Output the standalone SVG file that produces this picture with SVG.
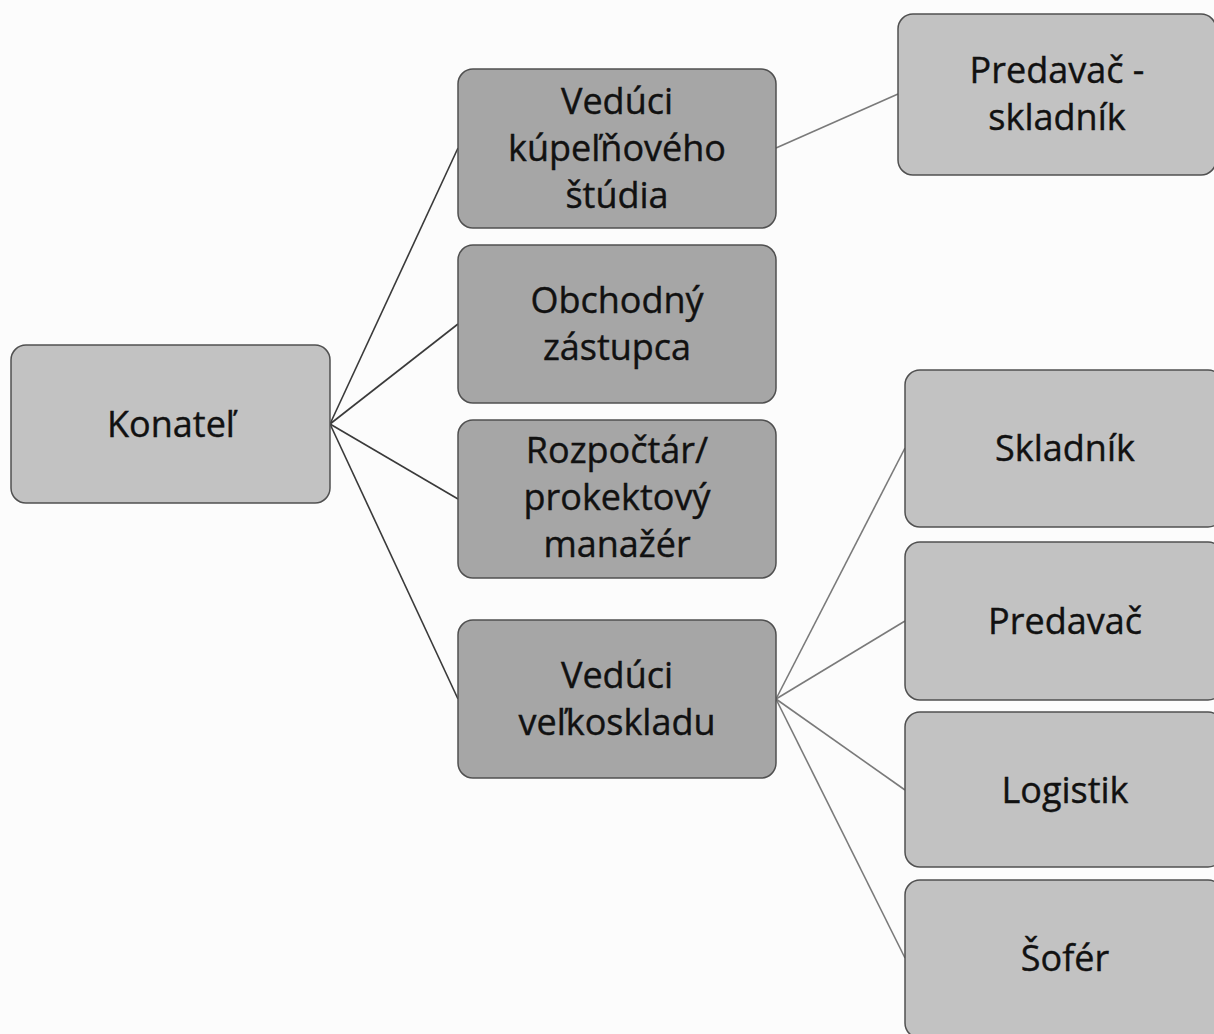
<svg xmlns="http://www.w3.org/2000/svg" width="1214" height="1034" viewBox="0 0 1214 1034">
<style>
.bg{fill:#fcfcfc}
.box{stroke:#505050;stroke-width:1.5}
.light{fill:#c2c2c2}
.dark{fill:#a6a6a6}
.t{font-family:"Open Sans","Noto Sans",sans-serif;font-size:36px;fill:#111111;stroke:#111111;stroke-width:0.4;text-anchor:middle}
.c1{stroke:#3a3a3a;stroke-width:1.6;fill:none}
.c2{stroke:#7a7a7a;stroke-width:1.6;fill:none}
</style>
<rect class="bg" x="0" y="0" width="1214" height="1034"/>
<g id="connectors">
<line class="c1" x1="330" y1="424" x2="458" y2="148"/>
<line class="c1" x1="330" y1="424" x2="458" y2="324"/>
<line class="c1" x1="330" y1="424" x2="458" y2="499"/>
<line class="c1" x1="330" y1="424" x2="458" y2="699"/>
<line class="c2" x1="776" y1="148" x2="898" y2="94"/>
<line class="c2" x1="776" y1="699" x2="905" y2="448"/>
<line class="c2" x1="776" y1="699" x2="905" y2="621"/>
<line class="c2" x1="776" y1="699" x2="905" y2="790"/>
<line class="c2" x1="776" y1="699" x2="905" y2="958"/>
</g>
<g id="konatel">
<rect class="box light" x="11" y="345" width="319" height="158" rx="15"/>
<text class="t" x="171" y="437">Konateľ</text>
</g>
<g id="veduci-kupelnoveho-studia">
<rect class="box dark" x="458" y="69" width="318" height="159" rx="15"/>
<text class="t" x="617" y="114">Vedúci</text>
<text class="t" x="617" y="161">kúpeľňového</text>
<text class="t" x="617" y="208">štúdia</text>
</g>
<g id="obchodny-zastupca">
<rect class="box dark" x="458" y="245" width="318" height="158" rx="15"/>
<text class="t" x="617" y="313">Obchodný</text>
<text class="t" x="617" y="360">zástupca</text>
</g>
<g id="rozpoctar">
<rect class="box dark" x="458" y="420" width="318" height="158" rx="15"/>
<text class="t" x="617" y="463">Rozpočtár/</text>
<text class="t" x="617" y="510">prokektový</text>
<text class="t" x="617" y="557">manažér</text>
</g>
<g id="veduci-velkoskladu">
<rect class="box dark" x="458" y="620" width="318" height="158" rx="15"/>
<text class="t" x="617" y="688">Vedúci</text>
<text class="t" x="617" y="735">veľkoskladu</text>
</g>
<g id="predavac-skladnik">
<rect class="box light" x="898" y="14" width="318" height="161" rx="15"/>
<text class="t" x="1057" y="83">Predavač -</text>
<text class="t" x="1057" y="130">skladník</text>
</g>
<g id="skladnik">
<rect class="box light" x="905" y="370" width="318" height="157" rx="15"/>
<text class="t" x="1065" y="461">Skladník</text>
</g>
<g id="predavac">
<rect class="box light" x="905" y="542" width="318" height="158" rx="15"/>
<text class="t" x="1065" y="634">Predavač</text>
</g>
<g id="logistik">
<rect class="box light" x="905" y="712" width="318" height="155" rx="15"/>
<text class="t" x="1065" y="803">Logistik</text>
</g>
<g id="sofer">
<rect class="box light" x="905" y="880" width="318" height="158" rx="15"/>
<text class="t" x="1065" y="971">Šofér</text>
</g>
</svg>
